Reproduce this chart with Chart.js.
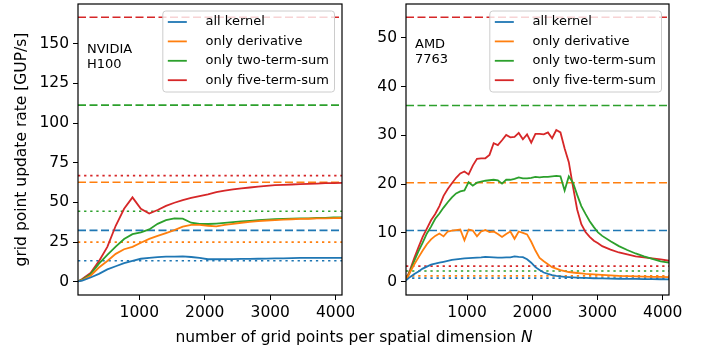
<!DOCTYPE html>
<html>
<head>
<meta charset="utf-8">
<script src="https://cdn.jsdelivr.net/npm/chart.js@4"></script>
<style>
    body { margin: 0; background: #fff; }
    #wrap { position: relative; width: 708px; height: 354px; }
    canvas { position: absolute; top: 0; }
    #left { left: 0; }
    #right { left: 354px; }
    #xlabel { position: absolute; left: 0; width: 708px; top: 328px; text-align: center; font: 15.5px "DejaVu Sans"; color: #000; }
</style>
</head>
<body>
<div id="wrap">
    <canvas id="left" width="354" height="354"></canvas>
    <canvas id="right" width="354" height="354"></canvas>
    <div id="xlabel">number of grid points per spatial dimension <i>N</i></div>
</div>
<script>
const seriesLabels = ['all kernel', 'only derivative', 'only two-term-sum', 'only five-term-sum'];
const seriesColors = ['#1f77b4', '#ff7f0e', '#2ca02c', '#d62728'];
const xTicks = [1000, 2000, 3000, 4000];

// NVIDIA H100
const nH100 = [64, 128, 256, 384, 512, 640, 768, 896, 1024, 1152, 1280, 1408, 1536, 1664, 1792, 1920, 2048,
    2176, 2304, 2432, 2560, 2688, 2816, 2944, 3072, 3200, 3328, 3456, 3584, 3712, 3840, 3968, 4096];
const h100All = [0.2, 0.7, 2.7, 5.0, 7.8, 9.8, 11.7, 13.2, 14.5, 15.1, 15.5, 15.8, 15.9, 16.0, 15.6, 15.0, 14.2,
    14.2, 14.3, 14.3, 14.4, 14.4, 14.5, 14.6, 14.7, 14.8, 14.9, 15.0, 15.0, 15.1, 15.1, 15.1, 15.1];
const h100Derivative = [0.2, 1.0, 3.8, 9.0, 13.1, 17.6, 20.5, 22.0, 24.6, 27.0, 28.9, 30.7, 32.6, 34.7, 35.8, 35.8, 35.3,
    34.9, 35.8, 36.5, 37.2, 37.7, 38.2, 38.6, 38.9, 39.2, 39.4, 39.6, 39.7, 39.9, 40.0, 40.1, 40.2];
const h100TwoTerm = [0.3, 1.3, 4.8, 11.4, 17.0, 22.1, 26.9, 30.0, 31.2, 33.0, 36.5, 38.8, 39.9, 39.8, 37.2, 36.4, 36.4,
    36.7, 37.1, 37.6, 38.0, 38.4, 38.8, 39.1, 39.4, 39.6, 39.8, 39.9, 40.0, 40.2, 40.3, 40.5, 40.6];
const h100FiveTerm = [0.2, 1.8, 5.5, 13.0, 22.0, 35.3, 46.0, 53.2, 46.0, 43.0, 45.2, 47.8, 49.8, 51.5, 52.8, 54.0, 55.1,
    56.5, 57.5, 58.2, 58.8, 59.4, 60.0, 60.4, 60.9, 61.1, 61.3, 61.5, 61.7, 61.9, 62.1, 62.2, 62.3];
const h100Peak = [32.4, 62.7, 111.3, 166.7];   // dashed
const h100Bound = [13.25, 25.0, 44.4, 66.9];   // dotted
const h100Ticks = [0, 25, 50, 75, 100, 125, 150];

// AMD 7763
const nAmd = [64, 128, 192, 256, 320, 384, 448, 512, 576, 640, 704, 768, 832, 896, 960, 1024,
    1088, 1152, 1216, 1280, 1344, 1408, 1472, 1536, 1600, 1664, 1728, 1792, 1856, 1920, 1984, 2048,
    2112, 2176, 2240, 2304, 2368, 2432, 2496, 2560, 2624, 2688, 2752, 2816, 2880, 2944, 3008, 3072,
    3200, 3328, 3456, 3584, 3712, 3840, 3968, 4096];
const amdAll = [0.3, 1.0, 1.6, 2.1, 2.7, 3.1, 3.5, 3.7, 3.9, 4.1, 4.3, 4.5, 4.6, 4.7, 4.8, 4.85,
    4.9, 4.95, 5.0, 5.1, 5.05, 5.0, 4.95, 4.95, 5.0, 5.0, 5.2, 5.1, 5.05, 4.6, 3.9, 3.0,
    2.4, 1.9, 1.6, 1.35, 1.2, 1.1, 1.0, 0.95, 0.9, 0.85, 0.8, 0.78, 0.75, 0.72, 0.7, 0.68,
    0.65, 0.62, 0.6, 0.58, 0.55, 0.53, 0.52, 0.5];
const amdDerivative = [0.3, 2.0, 3.6, 5.0, 6.4, 7.7, 8.7, 9.4, 9.9, 9.3, 10.3, 10.5, 10.6, 10.7, 8.5, 10.7,
    10.5, 9.3, 10.3, 10.6, 10.2, 10.3, 9.8, 9.2, 9.8, 10.3, 8.8, 10.3, 10.0, 9.7, 8.2, 6.4,
    4.9, 4.2, 3.6, 3.0, 2.7, 2.4, 2.2, 2.0, 1.9, 1.8, 1.7, 1.6, 1.55, 1.5, 1.45, 1.4,
    1.3, 1.2, 1.15, 1.1, 1.05, 1.0, 1.0, 0.95];
const amdTwoTerm = [0.3, 2.2, 4.3, 6.3, 8.0, 9.9, 11.3, 12.9, 14.0, 15.2, 16.3, 17.3, 18.1, 18.5, 18.7, 20.4,
    19.7, 20.3, 20.5, 20.7, 20.8, 20.9, 20.8, 20.1, 20.9, 20.9, 21.1, 21.4, 21.2, 21.2, 21.3, 21.5,
    21.4, 21.5, 21.5, 21.6, 21.7, 21.6, 18.7, 21.6, 20.3, 17.8, 15.5, 13.9, 12.4, 11.2, 10.1, 9.4,
    8.3, 7.3, 6.5, 5.8, 5.2, 4.7, 4.2, 3.9];
const amdFiveTerm = [0.4, 2.5, 4.9, 7.1, 9.2, 10.9, 12.6, 13.9, 15.5, 17.6, 19.0, 20.2, 21.3, 22.2, 22.6, 22.0,
    23.8, 25.2, 25.3, 25.3, 26.0, 28.4, 28.0, 29.0, 30.1, 29.6, 29.7, 30.5, 29.2, 30.2, 28.5, 30.3,
    30.3, 30.2, 30.6, 29.4, 31.1, 30.6, 27.3, 24.5, 19.5, 14.8, 11.8, 10.2, 9.2, 8.4, 7.9, 7.3,
    6.6, 6.0, 5.6, 5.2, 5.0, 4.8, 4.6, 4.3];
const amdPeak = [10.5, 20.3, 36.1, 54.2];
const amdBound = [0.75, 1.2, 2.2, 3.2];
const amdTicks = [0, 10, 20, 30, 40, 50];

Chart.defaults.font.family = '"DejaVu Sans"';
Chart.defaults.color = '#000';

// legend box, panel text and the axes frame
const panelPlugin = {
    id: 'panel',
    afterDatasetsDraw(chart, args, opts) {
        const ctx = chart.ctx;
        const a = chart.chartArea;
        ctx.save();

        ctx.font = '13px "DejaVu Sans"';
        ctx.fillStyle = '#000';
        ctx.textBaseline = 'alphabetic';
        opts.text.forEach((t, i) => ctx.fillText(t, a.left + 9, a.top + opts.textY + i * 15));

        let textW = 0;
        seriesLabels.forEach(l => { textW = Math.max(textW, ctx.measureText(l).width); });
        const w = 42.7 + textW + 5.5;
        const h = 81;
        const x0 = a.right - 7.5 - w;
        const y0 = a.top + 7;
        ctx.beginPath();
        ctx.roundRect(x0, y0, w, h, 3);
        ctx.fillStyle = 'rgba(255,255,255,0.8)';
        ctx.fill();
        ctx.strokeStyle = '#cccccc';
        ctx.lineWidth = 1;
        ctx.stroke();
        seriesLabels.forEach((label, i) => {
            const y = y0 + 11 + i * 19.4;
            ctx.strokeStyle = seriesColors[i];
            ctx.lineWidth = 1.8;
            ctx.beginPath();
            ctx.moveTo(x0 + 5, y);
            ctx.lineTo(x0 + 24, y);
            ctx.stroke();
            ctx.fillStyle = '#000';
            ctx.textBaseline = 'middle';
            ctx.fillText(label, x0 + 42.7, y);
        });

        ctx.strokeStyle = '#000';
        ctx.lineWidth = 1.2;
        ctx.strokeRect(a.left, a.top, a.right - a.left, a.bottom - a.top);
        ctx.restore();
    }
};

function makeChart(canvasId, n, series, peaks, bounds, yTicks, setup) {
    const first = n[0];
    const last = n[n.length - 1];
    const datasets = [];
    series.forEach((values, i) => {
        datasets.push({
            label: seriesLabels[i],
            data: values.map((v, k) => ({ x: n[k], y: v })),
            borderColor: seriesColors[i],
            borderWidth: 1.8,
            pointRadius: 0
        });
    });
    peaks.forEach((v, i) => {
        datasets.push({
            data: [{ x: first, y: v }, { x: last, y: v }],
            borderColor: seriesColors[i],
            borderWidth: 1.6,
            borderDash: [8, 3.5],
            pointRadius: 0
        });
    });
    bounds.forEach((v, i) => {
        datasets.push({
            data: [{ x: first, y: v }, { x: last, y: v }],
            borderColor: seriesColors[i],
            borderWidth: 1.6,
            borderDash: [2.3, 3.8],
            pointRadius: 0
        });
    });

    const top = Math.max(...peaks);
    const ctx = document.getElementById(canvasId).getContext('2d');
    return new Chart(ctx, {
        type: 'line',
        data: { datasets: datasets },
        options: {
            responsive: false,
            animation: false,
            layout: { padding: { top: 4, right: setup.padRight, bottom: 0, left: 0 } },
            plugins: {
                legend: { display: false },
                tooltip: { enabled: false },
                panel: { text: setup.text, textY: setup.textY }
            },
            scales: {
                x: {
                    type: 'linear',
                    min: first,
                    max: last,
                    afterBuildTicks: s => { s.ticks = xTicks.map(v => ({ value: v })); },
                    afterFit: s => { s.height = 59; s.paddingLeft = 0; s.paddingRight = 0; },
                    ticks: { font: { size: 15.5 }, padding: 4, maxRotation: 0, callback: v => String(v) },
                    grid: { drawOnChartArea: false, tickLength: 5, color: '#000' },
                    border: { display: false }
                },
                y: {
                    type: 'linear',
                    min: -0.05 * top,
                    max: 1.05 * top,
                    afterBuildTicks: s => { s.ticks = yTicks.map(v => ({ value: v })); },
                    afterFit: s => { s.width = setup.axisWidth; s.paddingTop = 0; s.paddingBottom = 0; },
                    ticks: { font: { size: 15.5 }, padding: 4, callback: v => String(v) },
                    grid: { drawOnChartArea: false, tickLength: 5, color: '#000' },
                    border: { display: false },
                    title: {
                        display: setup.yTitle !== '',
                        text: setup.yTitle,
                        font: { size: 15.5 },
                        padding: { top: 13, bottom: 0 }
                    }
                }
            }
        },
        plugins: [panelPlugin]
    });
}

makeChart('left', nH100, [h100All, h100Derivative, h100TwoTerm, h100FiveTerm], h100Peak, h100Bound, h100Ticks,
    { padRight: 12, axisWidth: 78, yTitle: 'grid point update rate [GUP/s]', text: ['NVIDIA', 'H100'], textY: 49 });
makeChart('right', nAmd, [amdAll, amdDerivative, amdTwoTerm, amdFiveTerm], amdPeak, amdBound, amdTicks,
    { padRight: 39, axisWidth: 52, yTitle: '', text: ['AMD', '7763'], textY: 43.5 });
</script>
</body>
</html>
